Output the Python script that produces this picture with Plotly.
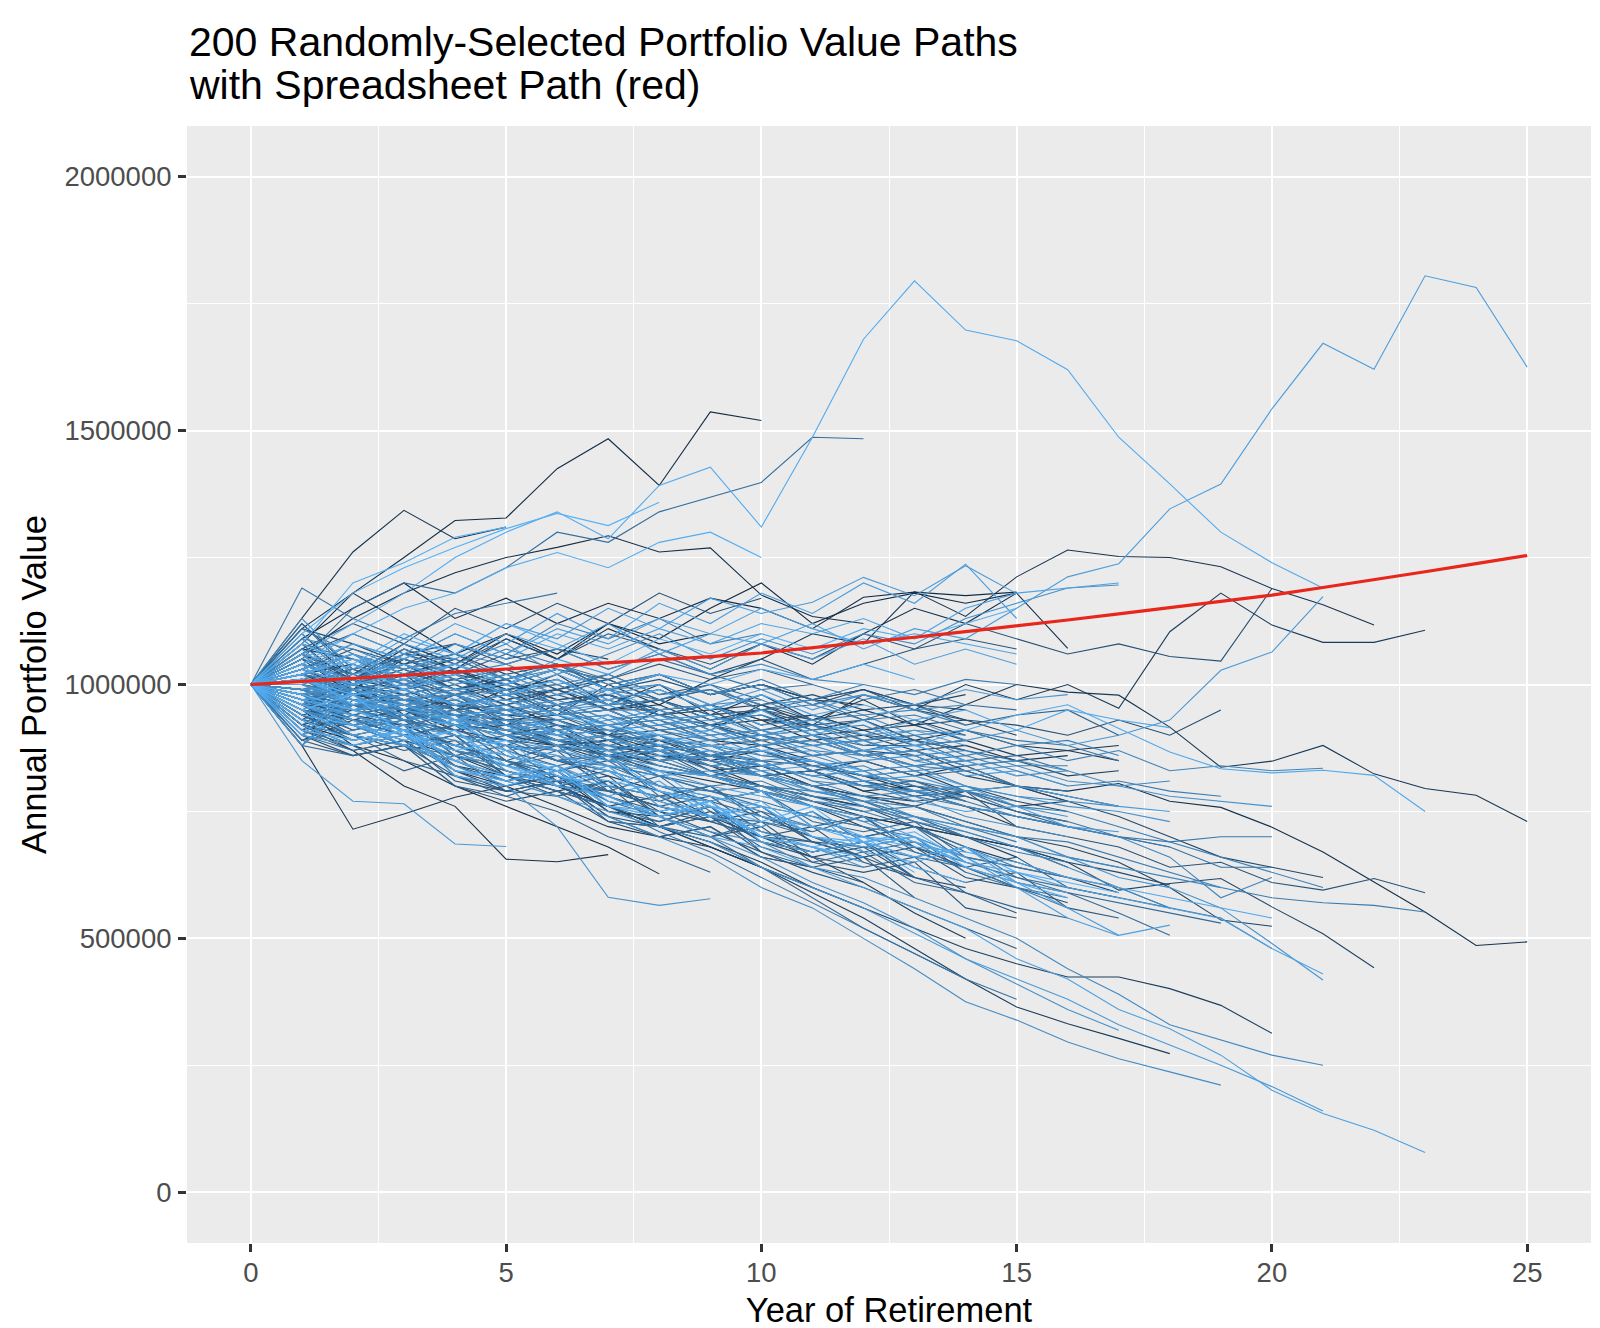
import plotly.graph_objects as go

# ---------------- data (portfolio values in thousands of dollars) ----------------
UNIT = 1000

x_ticks = [0, 5, 10, 15, 20, 25]
x_minor = [2.5, 7.5, 12.5, 17.5, 22.5]
y_ticks = [0, 500000, 1000000, 1500000, 2000000]
y_tick_labels = ["0", "500000", "1000000", "1500000", "2000000"]
y_minor = [250000, 750000, 1250000, 1750000]

spreadsheet_path = [1000, 1006, 1012, 1018, 1024, 1030, 1036, 1043, 1049, 1055, 1062,
                    1072, 1083, 1093, 1104, 1115, 1127, 1139, 1151, 1164, 1176,
                    1191, 1206, 1222, 1238, 1254]

# (simulation id, yearly values from year 0)
paths_to_25 = [
    (170, [1000,1040,1010,1080,1050,1100,1070,1120,1060,1100,1080,1120,1070,1110,1090,1150,1212,1238,1346,1395,1543,1672,1621,1805,1782,1625]),
    (20,  [1000,1030,990,1050,1010,980,1020,960,1000,940,980,930,970,920,960,1000,985,979,916,837,849,880,824,795,782,730]),
    (10,  [1000,960,990,930,950,900,920,870,890,850,870,830,850,820,840,800,790,805,770,758,719,670,611,552,486,493]),
]

paths_to_22_23 = [
    (15,  [1000,1050,980,1020,950,990,940,1000,960,1010,1050,1100,1080,1183,1134,1212,1265,1252,1250,1232,1189,1157,1117]),
    (25,  [1000,960,1010,940,980,920,960,900,950,910,960,920,980,950,1000,970,1000,953,1104,1180,1117,1083,1083,1107]),
    (185, [1000,1020,960,990,930,960,900,940,880,910,950,900,930,880,910,940,960,913,867,834,826,831,821,750]),
    (60,  [1000,970,930,950,900,880,910,850,870,820,840,800,780,760,790,720,700,680,640,650,610,595,618,590]),
    (120, [1000,990,950,960,920,900,870,880,840,820,800,790,770,760,730,700,690,660,630,600,580,570,565,552]),
    (40,  [1000,980,1000,950,940,900,910,860,880,830,800,780,760,720,700,680,650,595,608,618,562,509,442]),
    (175, [1000,960,920,900,860,840,800,780,740,700,680,640,600,560,520,460,420,360,322,270,201,155,122,78]),
]

paths_to_19_21 = [
    (190, [1000,1060,1120,1180,1250,1300,1340,1287,1392,1428,1310,1487,1680,1795,1698,1677,1620,1487,1395,1300,1240,1190]),
    (160, [1000,1040,1000,1060,1020,980,1010,960,990,950,980,940,900,930,890,910,880,900,930,1028,1064,1173]),
    (165, [1000,950,900,880,850,810,780,750,720,690,640,600,560,510,460,420,380,330,290,250,208,160]),
    (140, [1000,980,930,910,870,850,800,780,740,710,690,640,620,580,540,500,440,390,330,300,270,250]),
    (180, [1000,1010,970,940,920,880,860,830,800,780,760,740,700,690,650,630,600,580,560,539,480,430]),
    (155, [1000,990,1000,960,930,910,900,860,870,830,820,790,780,740,720,700,660,620,600,560,490,418]),
    (30,  [1000,940,900,880,840,820,790,760,720,690,650,600,560,520,480,450,424,424,401,368,313]),
    (145, [1000,950,920,880,850,810,780,740,700,660,600,560,500,440,375,339,296,263,237,211]),
    (35,  [1000,1000,960,980,940,930,890,900,860,850,820,800,780,760,730,700,680,650,600,536,524]),
    (45,  [1000,1020,1000,1040,990,1010,960,980,940,950,900,910,870,860,820,800,770,740,700,660,640,620]),
    (135, [1000,970,980,930,950,900,910,870,880,840,850,810,800,790,760,740,720,700,660,580,620]),
    (110, [1000,1010,960,940,900,890,850,840,800,790,760,740,720,700,660,640,620,600,560,540,480]),
    (50,  [1000,1040,1010,1060,1030,1000,1030,990,1020,980,1000,960,990,950,930,920,900,930,900,950]),
    (55,  [1000,1050,1020,1080,1040,1090,1050,1100,1070,1040,1080,1050,1100,1070,1120,1090,1060,1080,1055,1046,1189]),
    (130, [1000,1030,980,1000,960,980,940,960,920,940,900,920,880,900,860,880,850,870,830,840,830,835]),
    (125, [1000,980,990,950,960,920,930,890,900,860,870,830,840,800,790,760,750,720,690,660,630,600]),
    (105, [1000,980,940,960,910,930,880,900,850,870,820,830,800,780,760,740,720,700,680,640,640]),
    (115, [1000,1010,970,950,980,930,910,920,880,860,870,830,800,810,770,740,720,700,690,700,700]),
    (121, [1000,990,1020,980,1000,950,970,930,940,900,910,880,890,850,860,830,800,810,790,780]),
    (137, [1000,950,920,940,900,870,880,840,820,830,790,770,760,730,710,680,660,640,620,600]),
    (151, [1000,980,1010,970,990,950,960,920,940,900,910,880,890,850,830,840,810,800,780,770,760]),
    (91,  [1000,940,900,880,860,830,800,790,760,740,730,700,680,660,640,610,590,570,550,530]),
    (183, [1000,970,940,900,880,860,830,810,790,760,740,720,700,680,670,650,620,600,580,560,540]),
]

paths_to_16_18 = [
    (28,  [1000,950,930,900,860,820,800,760,720,680,640,590,540,480,420,365,332,303,273]),
    (150, [1000,960,940,900,880,840,820,780,740,700,660,610,570,520,460,410,360,319]),
    (95,  [1000,980,960,930,910,880,870,840,820,790,770,740,720,680,650,620,590,550,506]),
    (172, [1000,1000,970,960,930,920,880,870,830,820,790,760,740,700,660,610,560,506,526]),
    (12,  [1000,1020,1000,980,1000,960,990,950,970,930,950,910,930,890,910,880,870,880]),
    (178, [1000,1030,1060,1020,1080,1050,1100,1070,1110,1080,1120,1100,1130,1090,1150,1180,1190,1200]),
    (148, [1000,1020,1060,1000,1040,1080,1020,1060,1100,1050,1090,1060,1100,1080,1130,1160,1190,1196]),
    (8,   [1000,1060,1010,1070,1030,1090,1050,1110,1070,1030,1080,1040,1100,1150,1120,1180,1071]),
    (188, [1000,1000,1040,990,1020,980,1010,970,990,950,980,940,960,930,950,910,950,930,915]),
    (42,  [1000,980,950,960,920,900,880,860,850,820,800,780,760,730,700,680,650,630,605]),
    (168, [1000,970,980,940,920,900,870,850,830,800,780,760,730,690,660,600,540,505]),
    (132, [1000,990,960,950,920,900,890,850,860,820,800,780,770,740,720,700,660,640]),
    (142, [1000,1010,990,970,950,930,920,880,870,840,820,800,760,740,710,680,640,600,560]),
    (22,  [1000,990,970,940,920,910,880,860,830,820,790,770,740,720,680,650,620,590]),
    (75,  [1000,1000,980,970,950,930,930,900,880,860,850,840,820,800,780,750,720]),
    (162, [1000,1030,1000,1040,1010,990,1020,980,1000,960,990,950,980,960,990,970,980]),
    (128, [1000,980,990,960,970,940,950,920,930,900,910,880,890,860,870,840,840]),
    (38,  [1000,1010,980,990,960,970,940,950,910,920,890,900,860,870,830,800,780,760]),
    (152, [1000,1000,960,980,940,950,910,930,890,900,860,870,830,840,800,780,760,750,730]),
    (85,  [1000,1040,1000,1030,990,1020,980,1010,970,990,950,970,930,960,920,940,950,900]),
    (138, [1000,980,1000,960,970,940,950,910,920,890,900,860,870,840,850,820,830,800,810]),
    (18,  [1000,970,960,930,910,890,880,850,830,810,790,760,740,720,700,680,640]),
    (118, [1000,980,950,930,900,880,850,830,800,780,750,720,700,670,640,600,560]),
    (101, [1000,900,980,930,960,910,930,890,900,860,880,840,850,820,830,800,790]),
    (107, [1000,1080,1050,1000,980,1010,960,980,940,920,950,900,870,890,850,860,830]),
    (111, [1000,1110,1060,1030,1060,1010,1040,990,970,1000,950,960,930,940,910,890,880,850]),
    (113, [1000,920,990,950,930,950,910,880,900,860,840,850,810,780,790,750,730,700,680]),
    (117, [1000,890,910,930,880,900,850,860,820,790,800,760,730,740,700,670,650]),
    (127, [1000,1090,1070,1030,1050,1010,1030,990,1000,960,970,930,940,900,910,880,890,860]),
    (129, [1000,960,960,970,930,940,900,870,880,840,850,810,780,790,760,740,720]),
    (141, [1000,930,960,980,940,950,910,920,880,890,850,860,830,840,800,780,770,760]),
    (147, [1000,900,940,910,930,890,870,880,840,820,830,790,770,780,740,720,700]),
    (157, [1000,1020,950,970,930,910,930,890,870,880,840,820,830,790,800,760,740]),
    (159, [1000,1060,980,1000,960,970,930,940,900,910,870,880,850,860,820,830,800]),
    (161, [1000,880,970,930,940,900,910,870,850,860,820,800,810,770,750,760,720,710]),
    (167, [1000,1040,950,960,920,930,890,900,860,870,830,840,810,820,790,800,780,760,750]),
    (17,  [1000,1100,1010,990,1020,970,990,950,960,920,930,890,900,870,880,850,860]),
    (23,  [1000,1070,1050,1010,1030,990,1000,960,970,930,940,900,910,880,890,860,870,850]),
    (27,  [1000,920,950,960,920,930,890,860,870,830,840,800,810,780,790,760,770]),
    (33,  [1000,1060,980,1000,960,970,940,950,910,920,880,890,860,870,840,850,820,830]),
    (41,  [1000,940,960,970,930,940,900,910,870,880,840,850,810,790,800,770,750]),
    (56,  [1000,960,900,870,890,820,790,810,750,730,750,690,660,680,620,600,570]),
    (69,  [1000,950,930,880,900,830,800,820,740,760,700,670,690,640,610,630,560,540]),
    (77,  [1000,950,910,930,860,840,870,790,770,800,730,710,740,670,640,660,600,580,560]),
    (89,  [1000,970,950,920,940,870,840,860,800,770,790,730,710,730,660,640,620]),
    (97,  [1000,960,910,940,860,880,810,790,820,750,720,750,690,660,680,620,600,580]),
    (177, [1000,950,900,920,850,870,800,780,810,740,720,750,670,650,680,610,590]),
    (191, [1000,960,930,880,910,840,810,840,760,740,770,700,680,700,640,610,580]),
    (200, [1000,950,980,900,870,890,820,800,830,760,730,760,690,660,680,630,610,590]),
    (119, [1000,1080,990,1010,960,980,940,950,910,890,900,860,870,830,840,800,780]),
    (149, [1000,1070,990,1000,960,980,940,950,910,920,880,890,860,870,840,850,830]),
    (31,  [1000,930,990,950,960,920,930,890,900,860,870,840,820,830,790,800,770]),
    (47,  [1000,910,940,960,920,930,890,870,880,840,820,830,790,770,780,750,730]),
    (81,  [1000,900,880,830,860,790,780,800,720,700,730,660,640,660,590,560,540]),
    (106, [1000,930,920,880,900,830,810,840,760,740,760,700,670,690,630,600,580]),
]

paths_to_13_15 = [
    (3,   [1000,1080,1180,1120,1060,1100,1050,1120,1090,1150,1200,1120,1160,1180,1160,1180]),
    (176, [1000,1040,1080,1050,1100,1060,1110,1080,1130,1100,1150,1110,1080,1100,1080,1060]),
    (174, [1000,1020,1060,1010,1040,1000,1050,1020,1070,1030,1080,1050,1090,1040,1070,1040]),
    (171, [1000,1050,1100,1060,1120,1080,1140,1090,1160,1120,1180,1140,1200,1160,1237,1130]),
    (166, [1000,1060,1030,1090,1060,1120,1090,1150,1110,1170,1140,1162,1211,1175,1234,1179]),
    (6,   [1000,1090,1150,1200,1130,1170,1120,1160,1130,1170,1150,1110,1172,1182,1175,1182]),
    (65,  [1000,960,930,900,870,850,810,780,750,710,670,630,600,560,520,480]),
    (70,  [1000,990,950,930,900,880,850,830,800,770,740,700,660,620,590,550]),
    (24,  [1000,1000,980,960,940,910,890,870,840,820,790,760,720,680,640,600]),
    (112, [1000,970,990,950,960,920,930,890,900,850,820,780,750,720,680,640]),
    (102, [1000,1010,980,990,960,950,920,910,880,860,830,800,770,730,700]),
    (14,  [1000,980,1000,970,980,950,960,920,930,890,880,850,820,790,760,720]),
    (182, [1000,1030,1000,1020,990,1000,960,970,930,940,900,910,870,880,850,820]),
    (32,  [1000,1020,1040,1000,1030,990,1010,970,990,950,960,930,950,920,930,900]),
    (58,  [1000,1040,1010,1050,1020,1000,1030,990,1010,980,1000,970,990,960,950]),
    (122, [1000,1030,1060,1020,1040,1000,1030,990,1020,980,1010,970,1000,980,1010,1000]),
    (84,  [1000,1000,970,980,950,960,930,940,910,920,890,900,880,880]),
    (134, [1000,1040,1000,1020,980,990,950,970,930,940,910,920,890,910,900]),
    (48,  [1000,980,960,970,930,920,890,880,860,840,820,800,780,770]),
    (144, [1000,990,970,960,940,920,910,880,870,850,840,820,800,790,780]),
    (36,  [1000,990,1000,970,960,940,930,900,890,860,840,800,770,740,700,660]),
    (92,  [1000,970,940,900,880,850,820,780,740,700,640,580,520,470,420]),
    (108, [1000,960,930,900,870,820,790,760,710,670,620,570,520,470,420,380]),
    (26,  [1000,960,950,920,900,880,850,820,790,740,700,660,610,550,500]),
    (80,  [1000,1010,1030,1000,1010,980,990,960,970,940,950,920,930,890,870,850]),
    (186, [1000,1020,1050,1010,1040,1000,1030,990,1020,1000,1030,1010,1040,1010]),
    (104, [1000,1050,1020,1060,1030,1070,1040,1010,1050,1020,990,1000,970,990,960,950]),
    (116, [1000,990,960,970,940,950,910,920,890,880,860,850,820,810,790,770]),
    (52,  [1000,1030,1000,1020,990,1000,970,980,950,960,930,920,900,890,870]),
    (62,  [1000,1060,1100,1060,1080,1040,1070,1030,1060,1020,1050,1010,1040,1070,1090,1070]),
    (196, [1000,1080,1040,1100,1060,1120,1080,1040,1090,1060,1100,1070,1110,1090,1120,1150]),
    (103, [1000,1120,1020,990,1030,980,950,990,940,960,910,930,890,900,870]),
    (109, [1000,880,960,910,880,900,850,870,820,800,810,770,750,760,720,690]),
    (123, [1000,910,980,940,960,920,900,910,870,880,840,820,830,790,770]),
    (131, [1000,1020,1000,960,980,940,950,920,930,890,900,870,860,840,830]),
    (133, [1000,1090,1010,1050,1020,1040,1000,1020,980,990,960,970,940,950,920]),
    (139, [1000,960,1040,1000,1020,980,1000,960,970,930,940,910,920,880,890]),
    (143, [1000,1130,1030,1070,1040,1010,1040,1000,1020,980,1000,960,980,950,960]),
    (153, [1000,980,1000,1020,980,950,970,930,950,910,880,900,860,870,840]),
    (163, [1000,960,1000,1010,970,990,950,960,920,930,890,900,870,880,850]),
    (169, [1000,1100,1020,1040,1000,1020,980,990,950,960,920,930,900,910,880]),
    (173, [1000,900,990,950,930,940,900,910,870,880,840,850,820,830,800]),
    (21,  [1000,890,930,950,910,920,880,890,850,860,820,830,790,800,770]),
    (29,  [1000,1080,1000,1020,980,1000,960,980,940,960,920,940,910,930,900]),
    (37,  [1000,880,970,930,940,900,880,890,850,860,820,830,800,810,780]),
    (39,  [1000,1110,1080,1040,1060,1020,1040,1000,1020,980,1000,970,990,960,980]),
    (43,  [1000,950,1000,1030,990,1010,970,980,950,960,930,940,910,920,890]),
    (49,  [1000,1120,1030,1050,1010,1030,990,1010,970,990,960,980,950,960,930]),
    (51,  [1000,1010,990,950,970,930,940,900,910,880,890,860,870,840,850]),
    (53,  [1000,920,880,900,830,790,810,740,720,750,690,660,680,620,600]),
    (59,  [1000,940,890,910,850,810,830,760,780,730,700,720,650,620]),
    (63,  [1000,980,920,880,900,820,780,810,740,700,720,650,630,650,560,540]),
    (71,  [1000,930,900,920,820,800,830,750,730,760,670,640,660,580]),
    (73,  [1000,970,930,900,920,850,810,830,770,740,760,690,680,700,630]),
    (79,  [1000,990,940,910,930,860,830,850,790,770,790,720,700,720,670]),
    (83,  [1000,960,920,940,870,850,880,800,780,800,740,720,740,680]),
    (90,  [1000,880,860,880,800,780,810,730,720,740,680,650,670,610,590]),
    (94,  [1000,980,930,900,920,850,830,860,780,770,790,720,700,720,650]),
    (99,  [1000,900,870,890,830,810,840,760,730,760,690,670,690,620]),
    (187, [1000,900,880,910,820,800,830,760,740,770,690,670,690,630]),
    (189, [1000,940,920,890,910,830,800,830,770,740,760,700,690,700,640]),
    (197, [1000,980,950,910,930,870,830,860,790,770,790,720,690,710,650]),
    (199, [1000,930,890,910,850,820,840,770,750,770,700,680,700,640,610]),
    (5,   [1000,920,890,910,830,800,820,750,740,760,690,670,690,620]),
]

paths_to_10_12 = [
    (2,   [1000,1110,1180,1250,1323,1328,1425,1484,1392,1537,1520]),
    (100, [1000,1050,1150,1200,1180,1230,1300,1280,1340,1369,1398,1487,1484]),
    (7,   [1000,1060,1130,1180,1220,1250,1270,1293,1261,1269,1176,1134,1120]),
    (192, [1000,1040,1100,1150,1180,1230,1260,1230,1280,1300,1250]),
    (54,  [1000,1070,1120,1080,1150,1110,1160,1120,1180,1140,1170]),
    (124, [1000,1030,1080,1050,1100,1060,1120,1090,1130,1080,1100]),
    (66,  [1000,1020,990,1010,980,990,960,970,940,920,900,880]),
    (16,  [1000,1030,1060,1020,1050,1010,1040,990,1020,980,1000,970,960]),
    (136, [1000,980,950,960,930,910,890,870,850,820,790,760]),
    (86,  [1000,960,930,900,880,850,820,790,760,730,700]),
    (44,  [1000,950,920,890,860,830,800,760,720,690,640,600,560]),
    (126, [1000,990,1000,970,980,950,940,910,900,870,850]),
    (72,  [1000,1040,1010,1050,1020,1060,1030,1010,1040,1010,1030,1000]),
    (194, [1000,1010,980,990,960,970,940,920,900,880,870,850,830]),
    (34,  [1000,970,940,920,880,850,800,760,720,680,640,600]),
    (154, [1000,960,940,910,890,860,840,800,780,740,710,680,640]),
    (76,  [1000,1050,1010,1040,1000,1030,990,1020,980,1000,970]),
    (11,  [1000,1020,980,990,950,960,920,900,870,840,800]),
    (146, [1000,1020,1050,1030,1060,1040,1070,1030,1060,1020,1040,1010,1000]),
    (98,  [1000,990,960,950,920,910,880,860,840,820,800,770,750]),
    (64,  [1000,1000,1030,990,1010,970,990,950,970,940,950,930]),
    (19,  [1000,880,715,745,778,800,760,720,700,680,640]),
    (57,  [1000,900,860,880,800,770,790,730,700,720,660,640,610]),
    (67,  [1000,910,870,890,810,790,810,730,720,740,670]),
    (74,  [1000,890,860,880,820,790,810,740,700,720,660,640]),
    (78,  [1000,920,900,920,840,810,830,770,750,770,700,690,660]),
    (87,  [1000,930,890,910,850,820,840,790,760,780,710,690]),
    (93,  [1000,910,880,900,840,800,820,770,740,760,700,680,650]),
    (96,  [1000,950,920,940,870,840,860,800,780,800,740,710]),
    (181, [1000,920,880,900,830,820,840,760,750,770,700,680,660]),
    (193, [1000,910,890,910,830,810,830,760,740,760,700,680,650]),
]

paths_to_9_or_less = [
    (198, [1000,1100,1180,1230,1270,1307,1337,1313,1359]),
    (4,   [1000,1060,1020,1080,1040,1100,1060,1120,1080,1100]),
    (88,  [1000,980,1010,970,990,960,980,950,950]),
    (179, [1000,970,950,920,900,880,860,840,830,820]),
    (46,  [1000,1030,1070,1040,1080,1050,1070,1050]),
    (114, [1000,1190,1130,1090,1140,1160,1180]),
    (82,  [1000,940,900,850,820,780,750,700,670,630]),
    (156, [1000,950,900,880,840,800,720,581,565,578]),
    (9,   [1000,920,870,800,760,656,651,665]),
    (1,   [1000,950,880,850,800,760,720,680,627]),
    (13,  [1000,1130,1261,1343,1287,1310]),
    (164, [1000,850,770,765,686,681]),
    (195, [1000,1080,1200,1240,1290,1310]),
    (68,  [1000,1040,1000,1060,1050]),
    (61,  [1000,950,930,920]),
]

N_SIMS = 200

# ---------------- figure ----------------
LOW = (0x13, 0x2B, 0x43)
HIGH = (0x56, 0xB1, 0xF7)


def shade(sim_id):
    t = (sim_id - 1) / (N_SIMS - 1)
    r, g, b = (round(lo + (hi - lo) * t) for lo, hi in zip(LOW, HIGH))
    return f"rgb({r},{g},{b})"


all_paths = sorted(
    paths_to_25 + paths_to_22_23 + paths_to_19_21 + paths_to_16_18
    + paths_to_13_15 + paths_to_10_12 + paths_to_9_or_less,
    key=lambda p: p[0],
)

fig = go.Figure()
for sim_id, vals in all_paths:
    fig.add_trace(go.Scatter(
        x=list(range(len(vals))),
        y=[v * UNIT for v in vals],
        mode="lines",
        line=dict(color=shade(sim_id), width=1.1),
        hoverinfo="skip",
        showlegend=False,
    ))

fig.add_trace(go.Scatter(
    x=list(range(len(spreadsheet_path))),
    y=[v * UNIT for v in spreadsheet_path],
    mode="lines",
    line=dict(color="#E8261B", width=3.2),
    hoverinfo="skip",
    showlegend=False,
))

FONT = "Liberation Sans, Arial, Helvetica, sans-serif"

fig.update_layout(
    width=1600,
    height=1328,
    margin=dict(l=179, r=17, t=118, b=93),
    paper_bgcolor="white",
    plot_bgcolor="#EBEBEB",
    font=dict(family=FONT, color="black"),
    showlegend=False,
    annotations=[
        dict(text="200 Randomly-Selected Portfolio Value Paths", xref="paper", yref="paper",
             x=0, y=1 + (118 - 34) / 1117, xanchor="left", yanchor="middle",
             showarrow=False, font=dict(size=41, color="black", family=FONT)),
        dict(text="with Spreadsheet Path (red)", xref="paper", yref="paper",
             x=0, y=1 + (118 - 77) / 1117, xanchor="left", yanchor="middle",
             showarrow=False, font=dict(size=41, color="black", family=FONT)),
    ],
)

fig.update_xaxes(
    range=[-1.25, 26.25],
    tickvals=x_ticks,
    ticktext=[str(v) for v in x_ticks],
    showgrid=True, gridcolor="white", gridwidth=2.2,
    minor=dict(tickvals=x_minor, showgrid=True, gridcolor="white", gridwidth=1.1),
    zeroline=False, showline=False,
    ticks="outside", ticklen=8, tickwidth=2.5, tickcolor="#333333",
    ticklabelstandoff=-3,
    tickfont=dict(size=27.5, color="#4D4D4D"),
    title=dict(text="Year of Retirement", font=dict(size=34.5, color="black"), standoff=10),
)

fig.update_yaxes(
    range=[-100000, 2100000],
    tickvals=y_ticks,
    ticktext=y_tick_labels,
    showgrid=True, gridcolor="white", gridwidth=2.2,
    minor=dict(tickvals=y_minor, showgrid=True, gridcolor="white", gridwidth=1.1),
    zeroline=False, showline=False,
    ticks="outside", ticklen=8, tickwidth=2.5, tickcolor="#333333",
    ticklabelstandoff=1,
    tickfont=dict(size=27.5, color="#4D4D4D"),
    title=dict(text="Annual Portfolio Value", font=dict(size=34.5, color="black"), standoff=7),
)

fig.write_html("out.html")
